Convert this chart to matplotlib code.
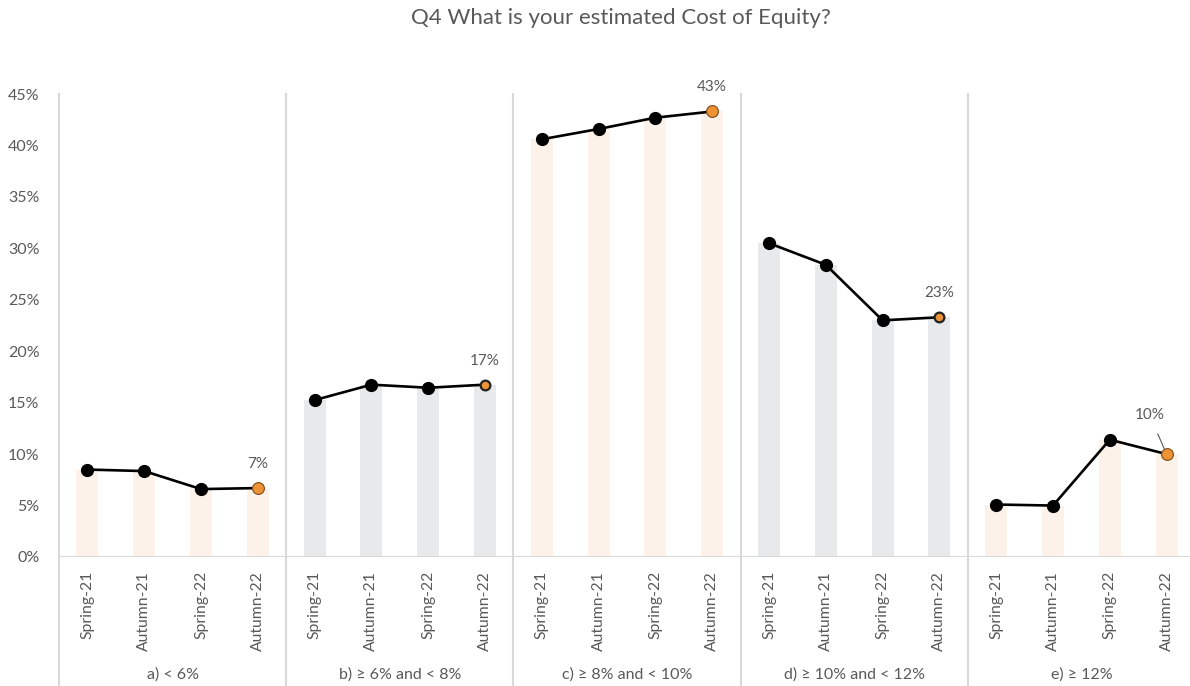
import matplotlib
matplotlib.use("Agg")
import matplotlib.pyplot as plt
from matplotlib.transforms import blended_transform_factory
import numpy as np

plt.rcParams['font.family'] = ['Lato', 'DejaVu Sans']

title = "Q4 What is your estimated Cost of Equity?"
groups = ["a) < 6%", "b) ≥ 6% and < 8%", "c) ≥ 8% and < 10%", "d) ≥ 10% and < 12%", "e) ≥ 12%"]
periods = ["Spring-21", "Autumn-21", "Spring-22", "Autumn-22"]
values = {
    "a) < 6%": [8.5, 8.35, 6.6, 6.7],
    "b) ≥ 6% and < 8%": [15.25, 16.75, 16.45, 16.75],
    "c) ≥ 8% and < 10%": [40.6, 41.6, 42.7, 43.3],
    "d) ≥ 10% and < 12%": [30.5, 28.4, 23.0, 23.3],
    "e) ≥ 12%": [5.1, 5.0, 11.4, 10.0],
}
last_labels = ["7%", "17%", "43%", "23%", "10%"]

peach = "#fdf2e9"
grey_bar = "#e8e9ea"
orange = "#ee9236"
txt = "#595959"
sep = "#d9d9d9"

W, H = 1190, 686
fig = plt.figure(figsize=(W / 100, H / 100), dpi=100)
ax_left, ax_right = 59, 1195
ax_bottom, ax_top = 557, 94
ax = fig.add_axes([ax_left / W, (H - ax_bottom) / H, (ax_right - ax_left) / W, (ax_bottom - ax_top) / H])

n = len(periods)
ax.set_xlim(-0.5, len(groups) * n - 0.5)
ax.set_ylim(0, 45)

xticks = []
xlabels = []
for g, name in enumerate(groups):
    vals = values[name]
    xs = np.arange(n) + g * n
    col = peach if g % 2 == 0 else grey_bar
    ax.bar(xs, vals, width=0.39, color=col, zorder=1)
    ax.plot(xs, vals, color="black", lw=1.9, zorder=3)
    ax.plot(xs[:-1], vals[:-1], "o", color="black", ms=8.5, zorder=4)
    if g in (1, 3):
        ax.plot(xs[-1], vals[-1], "o", mfc=orange, mec="#222222", mew=1.6, ms=7, zorder=5)
    else:
        ax.plot(xs[-1], vals[-1], "o", mfc=orange, mec="#7a4a1a", mew=0.8, ms=8.5, zorder=5)
    if g == 4:
        ax.annotate(last_labels[g], xy=(xs[-1], vals[-1]), xytext=(-17, 39),
                    textcoords="offset pixels", ha="center", va="center",
                    fontsize=11, color=txt,
                    arrowprops=dict(arrowstyle="-", color="#595959", lw=0.8,
                                    shrinkA=7, shrinkB=4), zorder=6)
    else:
        ax.annotate(last_labels[g], xy=(xs[-1], vals[-1]), xytext=(0, 24),
                    textcoords="offset pixels", ha="center", va="center",
                    fontsize=11, color=txt, zorder=6)
    xticks.extend(xs)
    xlabels.extend(periods)

for s in ax.spines.values():
    s.set_visible(False)
ax.axhline(0, color=sep, lw=1.5, zorder=2)

ax.set_xticks(xticks)
ax.set_xticklabels(xlabels, rotation=90, fontsize=11.3, color=txt, va="top")
ax.tick_params(axis="x", length=0, pad=10)
ax.set_yticks(np.arange(0, 46, 5))
ax.set_yticklabels([f"{v}%" for v in range(0, 46, 5)], fontsize=11.5, color=txt)
ax.tick_params(axis="y", length=0, pad=14)

trans = blended_transform_factory(ax.transData, ax.transAxes)
ybot = -(H - ax_bottom) / (ax_bottom - ax_top)
for g in range(len(groups) + 1):
    xb = g * n - 0.5
    ax.plot([xb, xb], [ybot, 1], color=sep, lw=1.5, transform=trans, clip_on=False, zorder=0)

for g, name in enumerate(groups):
    xc = g * n + (n - 1) / 2
    ax.text(xc, -(675 - ax_bottom) / (ax_bottom - ax_top), name, transform=trans,
            ha="center", va="center", fontsize=11.5, color=txt)

fig.text(621 / W, 1 - 18 / H, title, ha="center", va="center", fontsize=16, color=txt)

fig.savefig("out.png", dpi=100)
